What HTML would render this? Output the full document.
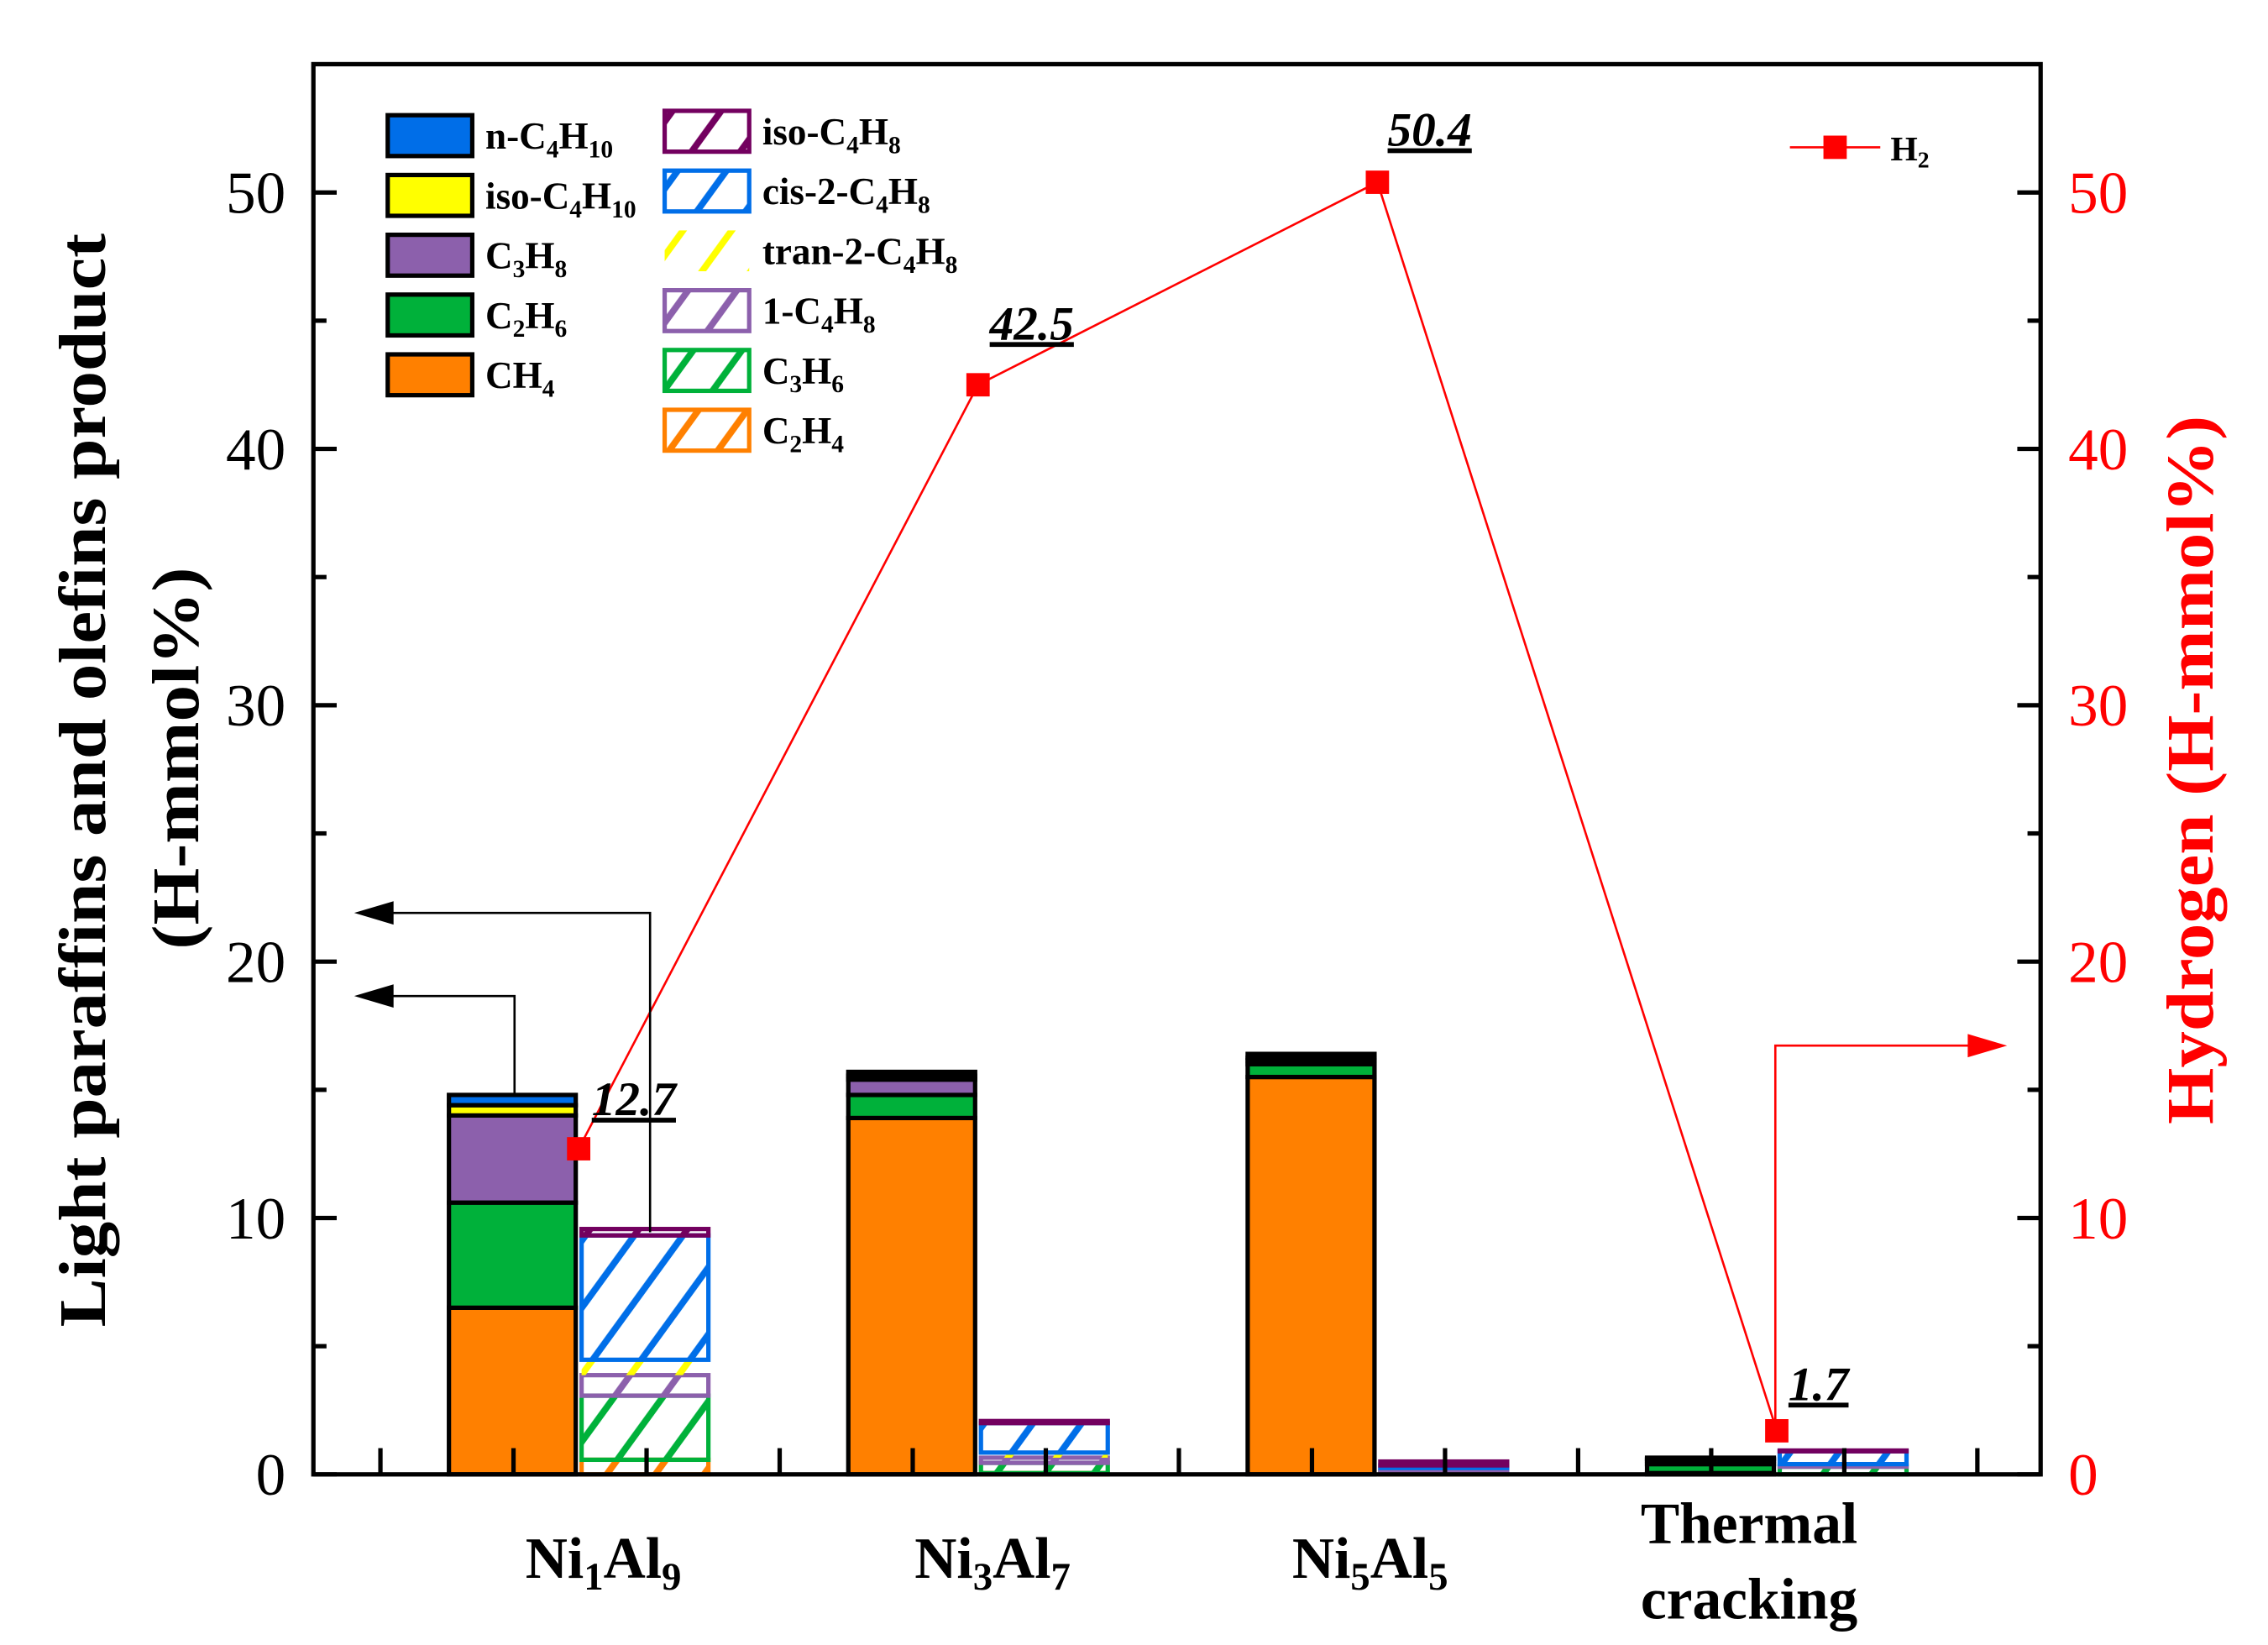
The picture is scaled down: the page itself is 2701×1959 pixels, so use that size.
<!DOCTYPE html>
<html><head><meta charset="utf-8"><style>
html,body{margin:0;padding:0;background:#fff;}
svg{display:block;}
text{font-family:"Liberation Serif",serif;}
</style></head><body>
<svg id="chart" width="2701" height="1959" viewBox="0 0 1556 1128" preserveAspectRatio="none" xmlns="http://www.w3.org/2000/svg">
<defs id="defs"></defs>
<g id="bars"></g>
<g id="axes"></g>
<g id="overlay"></g>
</svg>
<script>
const categories = ["Ni1Al9","Ni3Al7","Ni5Al5","Thermal cracking"];
// solid (paraffins) bottom -> top
const solidNames = ["CH4","C2H6","C3H8","iso-C4H10","n-C4H10"];
const CH4 = [6.5, 13.9, 15.5, 0.05];
const C2H6 = [4.1, 0.9, 0.5, 0.35];
const C3H8 = [3.4, 0.6, 0.15, 0.15];
const isoC4H10 = [0.4, 0.15, 0.1, 0.05];
const nC4H10 = [0.4, 0.15, 0.15, 0.05];
// hatched (olefins) bottom -> top
const hatchNames = ["C2H4","C3H6","1-C4H8","tran-2-C4H8","cis-2-C4H8","iso-C4H8"];
const C2H4 = [0.57, 0.05, 0.05, 0.0];
const C3H6 = [2.5, 0.4, 0.05, 0.3];
const oneC4H8 = [0.8, 0.2, 0.1, 0.05];
const tranC4H8 = [0.6, 0.2, 0.05, 0.05];
const cisC4H8 = [4.85, 1.15, 0.1, 0.5];
const isoC4H8 = [0.25, 0.08, 0.15, 0.03];
const H2 = [12.7, 42.5, 50.4, 1.7];
const yTicks = [0,10,20,30,40,50];

const NS="http://www.w3.org/2000/svg";
const X0=215,X1=1400,Y0=1011,Ytop=44;
const yS=v=>Y0-v*(Y0-132)/50;
const gC=i=>397+i*274;
const solidColors=["#FF8000","#00B13A","#8C60AC","#FFFF00","#006EE8"];
const hatchColors=["#FF8000","#00B13A","#8C60AC","#FFFF00","#006EE8","#73005F"];
function mk(tag,attrs,parent){const e=document.createElementNS(NS,tag);for(const k in attrs)e.setAttribute(k,attrs[k]);if(parent)parent.appendChild(e);return e;}
const defs=document.getElementById('defs');
hatchColors.forEach((c,i)=>{
  const p=mk('pattern',{id:'h'+i,patternUnits:'userSpaceOnUse',width:27,height:27,patternTransform:'rotate(36)'},defs);
  mk('line',{x1:13,y1:0,x2:13,y2:27,stroke:c,'stroke-width':4.5},p);
});
const bars=document.getElementById('bars');
const solid=[CH4,C2H6,C3H8,isoC4H10,nC4H10];
const hatch=[C2H4,C3H6,oneC4H8,tranC4H8,cisC4H8,isoC4H8];
categories.forEach((c,i)=>{
  let acc=0;const x=gC(i)-89;
  solid.forEach((arr,k)=>{
    const y1=yS(acc+arr[i]),y0=yS(acc);acc+=arr[i];
    const r=mk('rect',{x:x,y:y1,width:87,height:Math.max(0,y0-y1),fill:solidColors[k],stroke:'#000','stroke-width':3},bars);
    
    
  });
  acc=0;const xh=gC(i)+2;
  hatch.forEach((arr,k)=>{
    if(arr[i]<=0)return;
    const y1=yS(acc+arr[i]),y0=yS(acc);acc+=arr[i];
    const r=mk('rect',{x:xh,y:y1,width:87,height:y0-y1,fill:'url(#h'+k+')',stroke:k===3?'none':hatchColors[k],'stroke-width':3},bars);
    
    
  });
});
const ax=document.getElementById('axes');
mk('rect',{x:X0,y:Ytop,width:X1-X0,height:Y0-Ytop,fill:'none',stroke:'#000','stroke-width':3},ax);
for(let v=0;v<=50;v+=5){
  const y=yS(v),L=(v%10===0)?16:9;
  mk('line',{x1:X0,y1:y,x2:X0+L,y2:y,stroke:'#000','stroke-width':3},ax);
  mk('line',{x1:X1,y1:y,x2:X1-L,y2:y,stroke:'#000','stroke-width':3},ax);
}
yTicks.forEach(v=>{
  const t=mk('text',{x:196,y:yS(v)+14,'text-anchor':'end','font-size':41},ax);t.textContent=v;
  
  
  const t2=mk('text',{x:1419,y:yS(v)+14,'font-size':41,fill:'#FF0000'},ax);t2.textContent=v;
  
  
});
for(let k=0;k<13;k++){const x=261+k*91.3;mk('line',{x1:x,y1:Y0,x2:x,y2:Y0-18,stroke:'#000','stroke-width':3},ax);}
const ov=document.getElementById('overlay');
const pts=H2.map((v,i)=>gC(i)+','+yS(v)).join(' ');
const pl=mk('polyline',{points:pts,fill:'none',stroke:'#FF0000','stroke-width':1.5},ov);


H2.forEach((v,i)=>{
  const r=mk('rect',{x:gC(i)-8,y:yS(v)-8,width:16,height:16,fill:'#FF0000'},ov);
  
  
  const lx=[406,679,952,1227][i],ly=[yS(v)-23,yS(v)-31,yS(v)-25,yS(v)-21][i];
  const t=mk('text',{x:lx,y:ly,'font-size':33,'font-weight':'bold','font-style':'italic','text-decoration':'underline'},ov);
  t.textContent=v.toFixed(1);
  
  
});
</script>
<svg style="position:absolute;left:0;top:0" width="2701" height="1959" viewBox="0 0 1556 1128" preserveAspectRatio="none" xmlns="http://www.w3.org/2000/svg">
<g font-family="Liberation Serif" font-weight="bold">
<g><polyline points="353,752 353,683 268,683" fill="none" stroke="#000" stroke-width="1.5"/><polygon points="243,683 270,675 270,691" fill="#000"/></g>
<g><polyline points="446,845 446,626 268,626" fill="none" stroke="#000" stroke-width="1.5"/><polygon points="243,626 270,618 270,634" fill="#000"/></g>
<g><polyline points="1218,975 1218,717 1352,717" fill="none" stroke="#FF0000" stroke-width="1.5"/><polygon points="1377,717 1350,709 1350,725" fill="#FF0000"/></g>
<g font-size="26">
<rect x="266" y="79" width="58" height="28" fill="#006EE8" stroke="#000" stroke-width="3"/><text x="333" y="102">n-C<tspan font-size="17" dy="6">4</tspan><tspan dy="-6">H</tspan><tspan font-size="17" dy="6">10</tspan></text>
<rect x="266" y="120" width="58" height="28" fill="#FFFF00" stroke="#000" stroke-width="3"/><text x="333" y="143">iso-C<tspan font-size="17" dy="6">4</tspan><tspan dy="-6">H</tspan><tspan font-size="17" dy="6">10</tspan></text>
<rect x="266" y="161" width="58" height="28" fill="#8C60AC" stroke="#000" stroke-width="3"/><text x="333" y="184">C<tspan font-size="17" dy="6">3</tspan><tspan dy="-6">H</tspan><tspan font-size="17" dy="6">8</tspan></text>
<rect x="266" y="202" width="58" height="28" fill="#00B13A" stroke="#000" stroke-width="3"/><text x="333" y="225">C<tspan font-size="17" dy="6">2</tspan><tspan dy="-6">H</tspan><tspan font-size="17" dy="6">6</tspan></text>
<rect x="266" y="243" width="58" height="28" fill="#FF8000" stroke="#000" stroke-width="3"/><text x="333" y="266">CH<tspan font-size="17" dy="6">4</tspan></text>
<rect x="456" y="76" width="58" height="28" fill="url(#h5)" stroke="#73005F" stroke-width="3"/><text x="523" y="99">iso-C<tspan font-size="17" dy="6">4</tspan><tspan dy="-6">H</tspan><tspan font-size="17" dy="6">8</tspan></text>
<rect x="456" y="117" width="58" height="28" fill="url(#h4)" stroke="#006EE8" stroke-width="3"/><text x="523" y="140">cis-2-C<tspan font-size="17" dy="6">4</tspan><tspan dy="-6">H</tspan><tspan font-size="17" dy="6">8</tspan></text>
<rect x="456" y="158" width="58" height="28" fill="url(#h3)" stroke="none"/><text x="523" y="181">tran-2-C<tspan font-size="17" dy="6">4</tspan><tspan dy="-6">H</tspan><tspan font-size="17" dy="6">8</tspan></text>
<rect x="456" y="199" width="58" height="28" fill="url(#h2)" stroke="#8C60AC" stroke-width="3"/><text x="523" y="222">1-C<tspan font-size="17" dy="6">4</tspan><tspan dy="-6">H</tspan><tspan font-size="17" dy="6">8</tspan></text>
<rect x="456" y="240" width="58" height="28" fill="url(#h1)" stroke="#00B13A" stroke-width="3"/><text x="523" y="263">C<tspan font-size="17" dy="6">3</tspan><tspan dy="-6">H</tspan><tspan font-size="17" dy="6">6</tspan></text>
<rect x="456" y="281" width="58" height="28" fill="url(#h0)" stroke="#FF8000" stroke-width="3"/><text x="523" y="304">C<tspan font-size="17" dy="6">2</tspan><tspan dy="-6">H</tspan><tspan font-size="17" dy="6">4</tspan></text>
</g>
<g><line x1="1228" y1="101" x2="1290" y2="101" stroke="#FF0000" stroke-width="1.5"/><rect x="1251" y="93" width="16" height="16" fill="#FF0000"/><text x="1297" y="110" font-size="24">H<tspan font-size="16" dy="5">2</tspan></text></g>
<g font-size="40" text-anchor="middle">
<text x="414" y="1082">Ni<tspan font-size="27" dy="8">1</tspan><tspan dy="-8">Al</tspan><tspan font-size="27" dy="8">9</tspan></text>
<text x="681" y="1082">Ni<tspan font-size="27" dy="8">3</tspan><tspan dy="-8">Al</tspan><tspan font-size="27" dy="8">7</tspan></text>
<text x="940" y="1082">Ni<tspan font-size="27" dy="8">5</tspan><tspan dy="-8">Al</tspan><tspan font-size="27" dy="8">5</tspan></text>
<text x="1200" y="1058">Thermal</text>
<text x="1200" y="1110">cracking</text>
</g>
<text transform="translate(72,535) rotate(-90)" text-anchor="middle" font-size="46" textLength="750" lengthAdjust="spacingAndGlyphs">Light paraffins and olefins product</text>
<text transform="translate(136,520) rotate(-90)" text-anchor="middle" font-size="46" textLength="262" lengthAdjust="spacingAndGlyphs">(H-mmol%)</text>
<text transform="translate(1518,528) rotate(-90)" text-anchor="middle" font-size="46" fill="#FF0000" textLength="486" lengthAdjust="spacingAndGlyphs">Hydrogen (H-mmol%)</text>
</g>
</svg>
</body></html>
